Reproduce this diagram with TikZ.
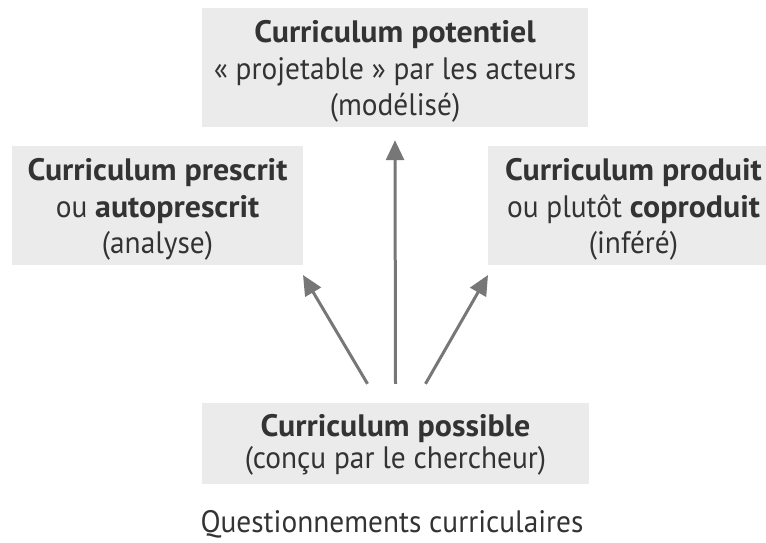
\documentclass[tikz,border=0pt]{standalone}
\usepackage{fontspec}
\setmainfont{PT Sans}[FakeStretch=0.947,BoldFeatures={FakeStretch=1.03}]
\usetikzlibrary{arrows.meta}
\definecolor{boxgray}{HTML}{EBEBEB}
\definecolor{txtgray}{HTML}{333333}
\definecolor{arrgray}{HTML}{777777}
\tikzset{
  cbox/.style={fill=boxgray, inner sep=0pt},
  ctext/.style={text=txtgray, align=center, inner sep=0pt,
    font=\fontsize{31}{36.5}\selectfont},
  arr/.style={draw=arrgray, line width=3pt,
    -{Triangle[length=20pt,width=18pt]}},
  caption/.style={text=txtgray, inner sep=0pt, font=\fontsize{31}{36}\selectfont}
}
\begin{document}
\begin{tikzpicture}[x=1pt,y=-1pt]
\useasboundingbox (0,0) rectangle (766,542);
\node[cbox, minimum width=386pt, minimum height=119pt] (pot) at (395,67.5) {};
\node[ctext] (potT) at ([yshift=-4pt]pot.center)
  {\textbf{Curriculum potentiel}\\« projetable » par les acteurs\\(modélisé)};
\node[cbox, minimum width=291pt, minimum height=119pt] (pre) at (157.5,205.5) {};
\node[ctext] (preT) at ([yshift=-4pt]pre.center)
  {\textbf{Curriculum prescrit}\\ou \textbf{autoprescrit}\\(analyse)};
\node[cbox, minimum width=291pt, minimum height=119pt] (pro) at (633.5,205.5) {};
\node[ctext] (proT) at ([yshift=-4pt]pro.center)
  {\textbf{Curriculum produit}\\ou plutôt \textbf{coproduit}\\(inféré)};
\node[cbox, minimum width=387pt, minimum height=81pt] (pos) at (395.5,443.5) {};
\node[ctext, font=\fontsize{31}{32}\selectfont] (posT) at ([yshift=-1pt]pos.center)
  {\textbf{Curriculum possible}\\(conçu par le chercheur)};
\node[caption, anchor=base] (cap) at (392,532) {Questionnements curriculaires};
\coordinate (sl) at ([xshift=-28pt,yshift=19pt]pos.north);
\coordinate (sc) at ([yshift=19pt]pos.north);
\coordinate (sr) at ([xshift=30pt,yshift=19pt]pos.north);
\coordinate (tl) at (303,275);
\coordinate (tc) at ([yshift=-13pt]pot.south);
\coordinate (tr) at (488,275);
\draw[arr] (sl) -- (tl);
\draw[arr] (sc) -- (tc);
\draw[arr] (sr) -- (tr);
\end{tikzpicture}
\end{document}
